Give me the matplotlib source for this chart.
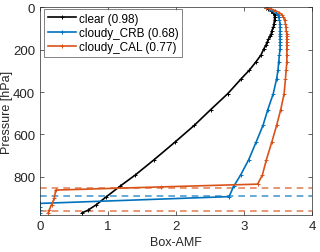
import numpy as np
import matplotlib.pyplot as plt

plt.rcParams['font.family'] = ['Liberation Sans', 'DejaVu Sans']

# clear sky box-AMF profile
p_clear = [2, 8, 15, 25, 35, 47, 60, 79, 95, 110, 125, 137, 150, 165, 180, 197,
           225, 260, 296, 337, 408, 483, 557, 635, 719, 792, 844, 896, 934, 959, 970]
amf_clear = [3.32, 3.36, 3.40, 3.43, 3.45, 3.45, 3.45, 3.44, 3.43, 3.41, 3.40, 3.38,
             3.36, 3.34, 3.32, 3.29, 3.25, 3.17, 3.08, 2.96, 2.76, 2.51, 2.27, 1.99,
             1.68, 1.40, 1.18, 0.97, 0.82, 0.70, 0.62]

# cloudy, CRB
p_crb = [2, 8, 15, 25, 35, 47, 60, 79, 95, 110, 125, 137, 150, 165, 180, 197,
         225, 260, 296, 337, 408, 483, 557, 635, 719, 792, 844, 894, 926, 944, 959, 970]
amf_crb = [3.32, 3.38, 3.43, 3.47, 3.50, 3.51, 3.52, 3.53, 3.53, 3.53, 3.53, 3.53,
           3.53, 3.53, 3.53, 3.53, 3.52, 3.51, 3.50, 3.48, 3.43, 3.35, 3.28, 3.18,
           3.07, 2.95, 2.85, 2.78, 0.0, 0.0, 0.0, 0.0]

# cloudy, CAL
p_cal = [2, 8, 15, 25, 35, 47, 60, 79, 95, 110, 125, 137, 150, 165, 180, 197,
         225, 260, 296, 337, 408, 483, 557, 635, 719, 792, 835, 848, 863, 902, 932, 957, 970]
amf_cal = [3.32, 3.40, 3.46, 3.52, 3.56, 3.58, 3.60, 3.61, 3.62, 3.62, 3.63, 3.63,
           3.63, 3.63, 3.63, 3.63, 3.63, 3.63, 3.62, 3.61, 3.59, 3.54, 3.48, 3.41,
           3.33, 3.27, 3.20, 1.78, 0.23, 0.21, 0.17, 0.135, 0.12]

# cloud levels
cal_levels = [853, 960]
crb_levels = [889]

blue = '#0072BD'
orange = '#D95319'

fig = plt.figure(figsize=(3.2, 2.53), dpi=100)
ax = fig.add_axes([0.125, 0.146, 0.85, 0.821])

for lv in cal_levels:
    ax.axhline(lv, color=orange, ls=(0, (4, 3)), lw=1.2, alpha=0.7)
for lv in crb_levels:
    ax.axhline(lv, color=blue, ls=(0, (4, 3)), lw=1.2, alpha=0.7)

ax.plot(amf_clear, p_clear, '-+', color='k', lw=1.2, ms=3.5, mew=0.7, label='clear (0.98)')
ax.plot(amf_crb, p_crb, '-+', color=blue, lw=1.2, ms=3.5, mew=0.7, label='cloudy_CRB (0.68)')
ax.plot(amf_cal, p_cal, '-+', color=orange, lw=1.2, ms=3.5, mew=0.7, label='cloudy_CAL (0.77)')

ax.set_xlim(0, 4)
ax.set_ylim(981, 0)
ax.set_xticks([0, 1, 2, 3, 4])
ax.set_yticks([0, 200, 400, 600, 800])
ax.set_xlabel('Box-AMF', fontsize=9, color='#262626', labelpad=3)
ax.set_ylabel('Pressure [hPa]', fontsize=9, color='#262626', labelpad=0)
ax.tick_params(direction='in', top=True, right=True, length=3, width=0.5,
               labelsize=9.5, colors='#262626', pad=3.5)
for s in ax.spines.values():
    s.set_linewidth(0.5)
    s.set_color('#262626')

leg = ax.legend(loc='upper left', bbox_to_anchor=(0.015, 0.992), borderaxespad=0,
                fontsize=8.5, handlelength=2.4, borderpad=0.3,
                labelspacing=0.2, handletextpad=0.25, fancybox=False)
leg.get_frame().set_edgecolor('#262626')
leg.get_frame().set_linewidth(0.5)

fig.savefig('out.png', dpi=100)
